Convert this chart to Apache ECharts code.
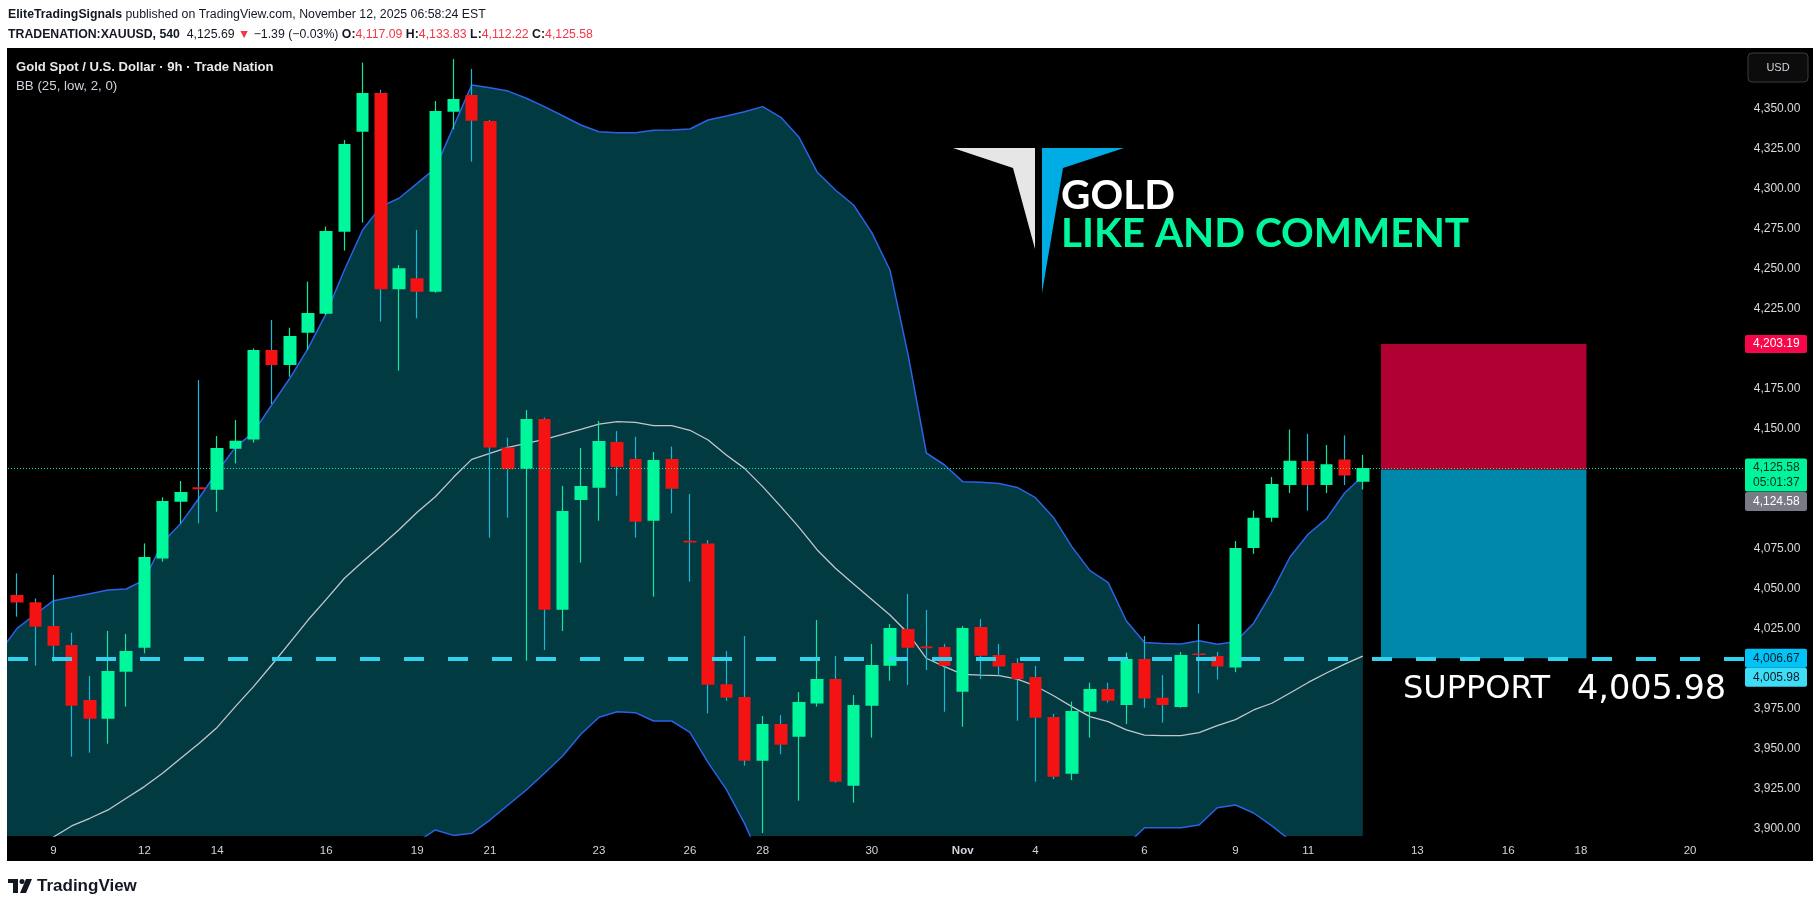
<!DOCTYPE html>
<html><head><meta charset="utf-8">
<script src="https://cdn.jsdelivr.net/npm/echarts@6/dist/echarts.min.js"></script>
<style>html,body{margin:0;padding:0;background:#fff}#c{width:1820px;height:908px}</style>
</head><body><div id="c"></div>
<script>
// ---------- data ----------
const slotCount = 96; // bar slots visible on the time axis
const tickIndex = [2,7,11,17,22,26,32,37,41,47,52,56,62,67,71,77,82,86,92];
const tickText  = ['9','12','14','16','19','21','23','26','28','30','Nov','4','6','9','11','13','16','18','20'];
const yTickValues = [3900,3925,3950,3975,4025,4050,4075,4150,4175,4225,4250,4275,4300,4325,4350];

const opens  = [4046.2,4041.7,4026.9,4015.0,3980.6,3968.9,3998.3,4013.3,4069.0,4104.6,
                4113.6,4112.1,4137.7,4143.5,4199.4,4190.0,4210.2,4222.1,4273.3,4335.8,
                4360.0,4237.3,4244.2,4235.8,4348.3,4358.7,4342.5,4138.5,4125.2,4156.2,
                4037.1,4105.6,4113.3,4141.9,4131.2,4092.7,4131.2,4080.2,4078.5,3990.4,
                3982.5,3942.7,3965.6,3957.7,3978.5,3993.7,3927.1,3977.1,4002.1,4025.0,
                4014.0,4013.7,3985.8,4026.2,4008.7,4003.7,3995.0,3970.0,3934.6,3973.3,
                3987.5,3977.5,4006.2,3982.1,3976.2,4009.7,4008.1,4001.0,4075.7,4094.6,
                4115.0,4130.0,4115.0,4131.0,4117.09];
const closes = [4041.5,4026.4,4014.6,3977.1,3968.9,3998.8,4011.2,4070.0,4105.0,4110.6,
                4112.4,4138.1,4142.7,4199.4,4190.0,4208.1,4222.5,4273.7,4328.1,4360.0,
                4237.3,4250.4,4235.8,4348.7,4356.2,4342.7,4138.4,4124.8,4156.2,4037.1,
                4098.7,4114.4,4142.5,4126.3,4092.1,4130.6,4112.7,4079.0,3990.2,3982.1,
                3942.7,3965.6,3952.7,3979.4,3993.7,3929.6,3977.5,4002.5,4025.6,4013.3,
                4013.0,4002.1,4025.6,4008.3,4001.5,3993.7,3969.6,3932.7,3973.7,3987.5,
                3980.2,4006.2,3981.5,3977.5,4008.7,4008.7,4001.5,4075.7,4094.6,4115.6,
                4130.1,4115.0,4128.0,4121.0,4125.58];
const lows   = [4032.7,4002.1,4004.6,3945.2,3947.7,3953.3,3976.5,4009.8,4067.1,4091.0,
                4091.0,4098.3,4128.5,4141.5,4165.6,4182.7,4199.4,4221.3,4261.5,4279.0,
                4217.1,4186.5,4219.2,4235.2,4337.3,4317.1,4082.1,4094.6,4005.2,4011.9,
                4023.7,4066.5,4092.7,4108.3,4082.1,4045.2,4097.3,4054.6,3972.3,3980.2,
                3939.6,3897.5,3946.7,3917.7,3976.5,3929.0,3916.5,3957.1,3992.7,3990.0,
                3999.4,3973.3,3963.9,3993.7,3995.8,3967.7,3929.6,3931.2,3930.6,3957.1,
                3979.0,3965.6,3975.8,3966.5,3975.8,3984.8,3993.5,3998.0,4072.0,4092.0,
                4110.0,4099.0,4110.0,4115.0,4112.22];
const highs  = [4059.8,4044.1,4058.8,4022.7,3995.6,4023.8,4021.9,4078.5,4107.3,4117.5,
                4180.6,4145.6,4155.6,4200.4,4218.1,4213.3,4242.1,4276.5,4330.6,4379.0,
                4361.9,4252.5,4274.4,4355.0,4381.2,4375.0,4343.1,4144.6,4161.9,4157.1,
                4114.4,4138.1,4155.0,4148.7,4145.2,4135.6,4139.0,4109.4,4080.6,4011.2,
                4020.6,3970.6,3971.2,3985.6,4030.6,4008.1,3983.7,4015.6,4028.1,4046.9,
                4036.9,4015.6,4026.9,4031.2,4015.6,4006.7,4001.9,3971.9,3979.6,3991.4,
                3991.4,4010.2,4020.6,3996.2,4010.6,4028.1,4010.6,4080.0,4099.0,4120.0,
                4149.7,4147.0,4140.0,4146.0,4133.83];

// Bollinger band readings, bar -1 .. 74
const bbFirstBar = -1;
const bbUpper = [4010,
  4025.4,4034.2,4042.7,4044.8,4047.1,4049.4,4050.0,4055.6,4079.2,4091.0,
  4106.7,4123.3,4138.5,4148.0,4165.0,4181.7,4200.4,4222.3,4249.4,4274.4,
  4289.0,4294.2,4303.5,4312.9,4339.0,4365.0,4363.3,4361.2,4356.7,4351.5,
  4345.8,4340.0,4335.8,4335.2,4335.2,4336.7,4336.9,4337.5,4343.1,4345.6,
  4348.3,4351.5,4344.8,4332.3,4310.5,4299.4,4290.0,4272.7,4249.4,4196.2,
  4135.0,4127.5,4117.1,4116.7,4116.0,4113.5,4107.1,4094.6,4076.5,4061.5,
  4054.0,4030.0,4016.5,4016.0,4015.6,4017.7,4015.4,4017.0,4028.6,4048.0,
  4070.0,4084.4,4093.8,4110.0,4120.6];
const bbMid = [3879,
  3884.0,3889.0,3895.0,3901.9,3906.7,3911.9,3919.2,3926.5,3934.8,3944.2,
  3953.5,3963.5,3976.5,3989.0,4002.5,4016.5,4030.6,4043.5,4056.7,4067.0,
  4076.9,4087.0,4098.0,4107.7,4119.8,4131.0,4134.8,4138.5,4141.0,4143.5,
  4146.7,4149.8,4153.0,4154.6,4154.2,4152.1,4152.1,4149.2,4143.1,4133.7,
  4125.4,4114.0,4101.5,4088.5,4074.4,4063.0,4053.1,4043.5,4033.7,4022.3,
  4006.7,4001.5,3996.7,3996.2,3995.8,3993.7,3989.4,3983.3,3976.5,3970.2,
  3967.1,3961.9,3958.7,3958.3,3958.3,3960.2,3964.6,3968.4,3974.4,3978.6,
  3985.0,3991.6,3997.5,4003.0,4008.0];
const bbLower = [3748,
  3743,3744,3747,3759,3766,3774,3788,3797,3790,3797,
  3800,3804,3815,3830,3840,3851,3861,3865,3864,3860,
  3865,3880,3892,3899.4,3896,3897.3,3905.6,3915,3924.4,3934.8,
  3945.6,3959.2,3969.8,3973.3,3972.7,3967.5,3967.5,3960.4,3941.5,3924.8,
  3903.5,3878,3858,3845,3838,3827,3816,3814,3818,3848,
  3878,3875,3876,3876,3876,3874,3872,3872,3876,3879,
  3880,3890,3900.8,3900.8,3900.8,3902.5,3913.3,3915,3910,3902,
  3893,3885,3880,3878,3876];

const supportLevel = 4006.67;
const lastPrice = 4125.58;
const entryPrice = 4124.58;
const stopPrice = 4203.19;
const positionFrom = 75.0, positionTo = 86.3; // bar positions of the position tool

// ---------- helpers ----------
const fmt = v => Number(v).toLocaleString('en-US',{minimumFractionDigits:2, maximumFractionDigits:2});
const slotNames = Array.from({length: slotCount}, (_, i) => String(i));
const candleData = opens.map((o, i) => [o, closes[i], lows[i], highs[i]]);
const bbXY = arr => arr.map((v, k) => [bbFirstBar + k, v]);

const FONT = "'Liberation Sans', Arial, sans-serif";
const UP = '#00f79b', DOWN = '#f41212';

const chart = echarts.init(document.getElementById('c'), null, {renderer: 'canvas'});

const option = {
  backgroundColor: '#ffffff',
  animation: false,
  grid: {left: 8, top: 48, width: 1745.76, height: 788, containLabel: false},
  xAxis: [{
    type: 'category', data: slotNames, boundaryGap: true,
    axisLine: {show: false}, axisTick: {show: false}, splitLine: {show: false},
    axisLabel: {
      interval: (i) => tickIndex.indexOf(i) >= 0,
      formatter: (v) => { const t = tickText[tickIndex.indexOf(parseInt(v))]; return t === 'Nov' ? '{b|Nov}' : t; },
      color: '#d1d4dc', fontSize: 11.5, fontFamily: FONT, margin: 9,
      rich: {b: {fontWeight: 'bold', color: '#d1d4dc', fontSize: 11.5, fontFamily: FONT}}
    }
  }, {
    type: 'value', min: -0.5, max: slotCount - 0.5, show: false
  }],
  yAxis: [{
    type: 'value', position: 'right', min: 3895.625, max: 4388.125, scale: true,
    axisLine: {show: false}, axisTick: {show: false}, splitLine: {show: false},
    axisLabel: {customValues: yTickValues, formatter: fmt, color: '#d9dbe0', fontSize: 12, fontFamily: FONT, margin: 0}
  }],
  series: [
    { name: 'upper', type: 'line', xAxisIndex: 1, data: bbXY(bbUpper), symbol: 'none', silent: true, z: 1,
      lineStyle: {color: '#2b62e6', width: 1.5}, areaStyle: {color: '#023a42', opacity: 1, origin: 'start'} },
    { name: 'lower', type: 'line', xAxisIndex: 1, data: bbXY(bbLower), symbol: 'none', silent: true, z: 1,
      lineStyle: {color: '#2b62e6', width: 1.5}, areaStyle: {color: '#000000', opacity: 1, origin: 'start'} },
    { name: 'basis', type: 'line', xAxisIndex: 1, data: bbXY(bbMid), symbol: 'none', silent: true, z: 2,
      lineStyle: {color: '#c4c6cc', width: 1.3},
      markLine: {silent: true, symbol: ['none','none'], label: {show: false},
        data: [{yAxis: lastPrice, lineStyle: {color: UP, width: 1, type: [1, 2]}}]},
      markArea: {silent: true, label: {show: false},
        data: [
          [{xAxis: positionFrom, yAxis: stopPrice, itemStyle: {color: '#b10032', opacity: 1}}, {xAxis: positionTo, yAxis: entryPrice}],
          [{xAxis: positionFrom, yAxis: entryPrice, itemStyle: {color: '#0088aa', opacity: 1}}, {xAxis: positionTo, yAxis: supportLevel}]
        ]}
    },
    { name: 'wicks', type: 'candlestick', xAxisIndex: 0, data: candleData, barWidth: 0.01, silent: true, z: 3,
      itemStyle: {color: 'rgba(0,0,0,0)', color0: 'rgba(0,0,0,0)', borderColor: '#12e89c', borderColor0: '#16b9d8', borderWidth: 1.2} },
    { name: 'bodies', type: 'candlestick', xAxisIndex: 0, data: candleData, barWidth: 13, silent: true, z: 4,
      itemStyle: {color: UP, color0: DOWN, borderColor: UP, borderColor0: DOWN, borderWidth: 0} },
    { name: 'support', type: 'line', xAxisIndex: 1, data: [], z: 6, silent: true,
      markLine: {silent: true, symbol: ['none','none'], label: {show: false},
        data: [{yAxis: supportLevel, lineStyle: {color: '#2fd3ee', width: 4, type: [20, 24]}}]} }
  ]
};
chart.setOption(option);

// ---------- texts and decorations ----------
const yPix = v => chart.convertToPixel({yAxisIndex: 0}, v);
const T = (x, y, text, o) => Object.assign({type: 'text', z: 50, style: Object.assign({x: x, y: y, text: text, fill: '#131722', font: '12px ' + FONT, verticalAlign: 'middle', textVerticalAlign: 'middle', align: 'left', textAlign: 'left'}, o || {})});

const g = [];
// chart background
g.push({type: 'rect', z: -10, shape: {x: 7, y: 48, width: 1806, height: 813}, style: {fill: '#000000'}});
// header
g.push(T(8, 15, '{b|EliteTradingSignals} published on TradingView.com, November 12, 2025 06:58:24 EST',
  {font: '12.3px ' + FONT, rich: {b: {fill: '#131722', font: 'bold 12.3px ' + FONT}}}));
g.push(T(8, 34.5, '{b|TRADENATION:XAUUSD, 540}  4,125.69 {r|▼} −1.39 (−0.03%) {b|O:}{r|4,117.09} {b|H:}{r|4,133.83} {b|L:}{r|4,112.22} {b|C:}{r|4,125.58}',
  {font: '12.3px ' + FONT, rich: {b: {font: 'bold 12.3px ' + FONT, fill: '#131722'}, r: {font: '12.3px ' + FONT, fill: '#f23645'}}}));
// legend in chart
g.push(T(16, 67, 'Gold Spot / U.S. Dollar · 9h · Trade Nation', {fill: '#e8e9ec', font: 'bold 13.1px ' + FONT}));
g.push(T(16, 86, 'BB (25, low, 2, 0)', {fill: '#d1d4dc', font: '13.3px ' + FONT}));
// logo
g.push({type: 'polygon', z: 50, shape: {points: [[953,148],[1035,148],[1035,249],[1013,168]]}, style: {fill: '#e6e6e6'}});
g.push({type: 'polygon', z: 50, shape: {points: [[1042,148],[1124,148],[1063,168],[1042,293]]}, style: {fill: '#00ace4'}});
g.push(T(1061, 196, 'GOLD', {fill: '#ffffff', font: 'bold 40.5px Lato, sans-serif'}));
g.push(T(1061, 234, 'LIKE AND COMMENT', {fill: UP, font: 'bold 40.5px Lato, sans-serif'}));
// support text
g.push(T(1403, 690, 'SUPPORT', {fill: '#ffffff', font: '32px "DejaVu Sans", sans-serif'}));
g.push(T(1577, 690, '4,005.98', {fill: '#ffffff', font: '33.5px "DejaVu Sans", sans-serif'}));
// USD box
g.push({type: 'rect', z: 50, shape: {x: 1748, y: 53, width: 60, height: 29, r: 4}, style: {fill: '#0c0c0c', stroke: '#3a3c44', lineWidth: 1}});
g.push(T(1778, 67.5, 'USD', {fill: '#d1d4dc', font: '11px ' + FONT, align: 'center', textAlign: 'center'}));
// price tags on the axis
function tag(top, h, text, bg, fg) {
  g.push({type: 'rect', z: 60, shape: {x: 1745, y: top, width: 62, height: h, r: 2}, style: {fill: bg}});
  g.push(Object.assign(T(1753, top + h / 2, text, {fill: fg, font: '12px ' + FONT, lineHeight: 15}), {z: 61}));
}
const yStop = yPix(stopPrice), yLast = yPix(lastPrice), ySup = yPix(supportLevel);
tag(yStop - 9, 18, fmt(stopPrice), '#f7064b', '#ffffff');
tag(yLast - 9.5, 33, fmt(lastPrice) + '\n05:01:37', '#00f59b', '#0a2a1c');
tag(yLast + 24, 19, fmt(entryPrice), '#787b86', '#ffffff');
tag(ySup - 9.5, 19, fmt(supportLevel), '#00c3f7', '#0a1a22');
tag(ySup + 9.5, 19, '4,005.98', '#3ddcf7', '#0a1a22');
// footer TradingView logo
g.push({type: 'rect', z: 50, shape: {x: 8, y: 879, width: 10, height: 4}, style: {fill: '#131722'}});
g.push({type: 'rect', z: 50, shape: {x: 13, y: 879, width: 5, height: 14}, style: {fill: '#131722'}});
g.push({type: 'circle', z: 50, shape: {cx: 22, cy: 881.5, r: 2.5}, style: {fill: '#131722'}});
g.push({type: 'polygon', z: 50, shape: {points: [[26,879],[32,879],[26,893],[20,893]]}, style: {fill: '#131722'}});
g.push(T(37, 886, 'TradingView', {fill: '#131722', font: 'bold 17px ' + FONT}));

chart.setOption({graphic: {elements: g}});
</script>
</body></html>
